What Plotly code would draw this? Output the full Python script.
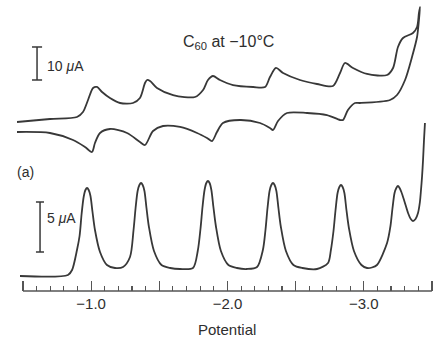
import plotly.graph_objects as go

# ---- Data ----
# Differential pulse voltammogram (bottom trace): potential (V), current (uA)
dpv_potential = [-0.478, -0.830, -0.860, -0.896, -0.915, -0.930, -0.945, -0.958, -0.970, -0.982,
                 -0.995, -1.010, -1.028, -1.065, -1.116, -1.175, -1.234, -1.285, -1.311, -1.326,
                 -1.341, -1.354, -1.366, -1.378, -1.391, -1.406, -1.424, -1.461, -1.516, -1.580,
                 -1.652, -1.747, -1.782, -1.802, -1.817, -1.832, -1.845, -1.857, -1.869, -1.882,
                 -1.897, -1.915, -1.952, -2.007, -2.070, -2.143, -2.217, -2.260, -2.279, -2.294,
                 -2.309, -2.322, -2.334, -2.346, -2.359, -2.374, -2.392, -2.429, -2.484, -2.550,
                 -2.657, -2.738, -2.759, -2.778, -2.793, -2.808, -2.821, -2.833, -2.845, -2.858,
                 -2.873, -2.891, -2.928, -2.983, -3.024, -3.060, -3.097, -3.171, -3.196, -3.211,
                 -3.226, -3.239, -3.251, -3.263, -3.276, -3.300, -3.325, -3.345, -3.361, -3.380,
                 -3.398, -3.412, -3.420, -3.428, -3.435, -3.442, -3.449]
dpv_current = [0.0, 0.1, 0.6, 2.6, 4.0, 6.2, 7.9, 8.6, 8.8, 8.6,
               8.0, 6.4, 4.6, 2.4, 1.1, 0.8, 0.9, 1.9, 4.6, 6.8,
               8.5, 9.1, 9.3, 9.1, 8.5, 6.8, 4.9, 2.5, 1.1, 0.8,
               0.7, 0.8, 2.5, 4.7, 6.9, 8.6, 9.3, 9.5, 9.3, 8.6,
               6.9, 5.0, 2.5, 1.1, 0.8, 0.7, 0.9, 2.6, 4.6, 6.8,
               8.5, 9.1, 9.3, 9.1, 8.5, 6.8, 4.9, 2.5, 1.1, 0.8,
               0.7, 1.3, 2.6, 4.5, 6.6, 8.3, 8.9, 9.1, 8.9, 8.3,
               6.6, 4.8, 2.5, 1.1, 0.8, 0.85, 1.1, 3.3, 5.0, 6.8,
               8.3, 8.8, 9.0, 8.8, 8.4, 7.4, 6.3, 5.7, 5.5, 5.7,
               6.3, 7.4, 8.6, 10.0, 11.6, 13.6, 15.3]

# Cyclic voltammogram (top trace): forward scan then return scan
cv_potential = [-0.456, -0.698, -0.896, -0.940, -0.977, -1.014, -1.043, -1.080, -1.138, -1.212,
                -1.307, -1.358, -1.395, -1.410, -1.432, -1.483, -1.601, -1.762, -1.821, -1.857,
                -1.894, -1.945, -2.041, -2.188, -2.276, -2.312, -2.356, -2.408, -2.532, -2.657,
                -2.774, -2.826, -2.862, -2.921, -3.024, -3.171, -3.215, -3.251, -3.288, -3.361,
                -3.391, -3.405, -3.413,
                -3.405, -3.391, -3.354, -3.303, -3.244, -3.193, -2.972, -2.936, -2.884, -2.848,
                -2.826, -2.730, -2.584, -2.437, -2.371, -2.334, -2.312, -2.239, -2.092, -1.967,
                -1.923, -1.887, -1.850, -1.777, -1.652, -1.527, -1.454, -1.395, -1.358, -1.263,
                -1.138, -1.065, -1.028, -1.006, -0.955, -0.867, -0.698, -0.456]
cv_current = [1.21, 2.12, 2.73, 4.24, 7.88, 11.52, 11.82, 10.30, 8.48, 6.97,
              6.97, 8.48, 13.03, 13.94, 13.64, 11.52, 9.39, 8.79, 10.91, 13.94,
              15.15, 13.94, 12.42, 11.82, 11.82, 14.85, 17.58, 16.06, 13.94, 12.73,
              12.12, 16.06, 19.09, 17.58, 15.76, 15.45, 17.58, 23.94, 26.67, 28.18,
              30.00, 34.24, 36.06,
              32.12, 26.97, 20.91, 13.94, 9.39, 7.88, 6.97, 6.97, 4.85, 1.82,
              1.82, 3.33, 3.94, 3.94, 1.52, -1.21, -0.61, 0.91, 1.82, 0.91,
              -1.82, -4.55, -3.64, -2.12, -0.30, 0.00, -1.52, -5.76, -4.85, -2.12,
              -0.91, -2.12, -5.15, -7.88, -6.36, -4.24, -2.12, -1.82]

major_tick_start = -1.0      # labelled ticks at -1.0, -2.0, -3.0
major_tick_step = 0.5
minor_tick_step = 0.1

cv_scale_uA = 10
dpv_scale_uA = 5

# ---- Styling ----
INK = "#383838"
TXT = "#2e2e2e"
AX = "#555"
FONT = "Liberation Sans, Arial, Helvetica, sans-serif"
X_RANGE = [-0.4046, -3.5374]

fig = go.Figure()
fig.add_trace(go.Scatter(x=dpv_potential, y=dpv_current, mode="lines",
                         line=dict(color=INK, width=1.8, shape="spline", smoothing=0.8),
                         yaxis="y", hoverinfo="skip"))
fig.add_trace(go.Scatter(x=cv_potential, y=cv_current, mode="lines",
                         line=dict(color=INK, width=1.8, shape="spline", smoothing=0.8),
                         yaxis="y2", hoverinfo="skip"))

# axis baseline spanning the tick range
fig.add_shape(type="line", xref="x", yref="paper", x0=-0.5, x1=-3.5, y0=0, y1=0,
              line=dict(color=AX, width=1.3))

# scale bars
cv_bar_x, cv_bar_y0 = -0.603, 13.94
fig.add_shape(type="line", xref="x", yref="y2", x0=cv_bar_x, x1=cv_bar_x,
              y0=cv_bar_y0, y1=cv_bar_y0 + cv_scale_uA, line=dict(color=INK, width=1.5))
for yy in (cv_bar_y0, cv_bar_y0 + cv_scale_uA):
    fig.add_shape(type="line", xref="x", yref="y2", x0=-0.566, x1=-0.640, y0=yy, y1=yy,
                  line=dict(color=INK, width=1.5))
dpv_bar_x, dpv_bar_y0 = -0.625, 2.4
fig.add_shape(type="line", xref="x", yref="y", x0=dpv_bar_x, x1=dpv_bar_x,
              y0=dpv_bar_y0, y1=dpv_bar_y0 + dpv_scale_uA, line=dict(color=INK, width=1.5))
for yy in (dpv_bar_y0, dpv_bar_y0 + dpv_scale_uA):
    fig.add_shape(type="line", xref="x", yref="y", x0=-0.595, x1=-0.654, y0=yy, y1=yy,
                  line=dict(color=INK, width=1.5))

annots = [
    dict(text=f"{cv_scale_uA} <i>\u03bc</i>A", x=-0.661, y=18.18, xref="x", yref="y2",
         xanchor="left", yanchor="middle", font=dict(size=14)),
    dict(text=f"{dpv_scale_uA} <i>\u03bc</i>A", x=-0.661, y=5.8, xref="x", yref="y",
         xanchor="left", yanchor="middle", font=dict(size=14)),
    dict(text="C<sub>60</sub> at \u221210\u00b0C", x=-2.004, y=25.45, xref="x", yref="y2",
         xanchor="center", yanchor="middle", font=dict(size=16)),
    dict(text="(a)", x=-0.515, y=10.4, xref="x", yref="y",
         xanchor="center", yanchor="middle", font=dict(size=14)),
    dict(text="Potential", x=-2.0, y=-0.1306, xref="x", yref="paper",
         xanchor="center", yanchor="middle", font=dict(size=15)),
]
for a in annots:
    a["showarrow"] = False
    a["font"]["color"] = TXT
    a["font"]["family"] = FONT
    fig.add_annotation(**a)

fig.update_layout(
    width=442, height=338,
    margin=dict(l=10, r=5, t=0, b=47, pad=0),
    paper_bgcolor="white", plot_bgcolor="white",
    showlegend=False,
    font=dict(family=FONT, color=TXT),
    xaxis=dict(range=X_RANGE, tickmode="linear", tick0=major_tick_start,
               dtick=major_tick_step, ticklabelstep=2, tickformat=".1f",
               ticks="inside", ticklen=10, tickwidth=1.3,
               tickcolor=AX, showline=False, showgrid=False, zeroline=False,
               ticklabelstandoff=2, fixedrange=True,
               tickfont=dict(size=15, color=TXT, family=FONT),
               minor=dict(tickmode="linear", tick0=-0.5, dtick=minor_tick_step,
                          ticks="inside", ticklen=5, tickwidth=1.1, tickcolor=AX,
                          showgrid=False)),
    yaxis=dict(range=[-1.5, 27.6], visible=False, fixedrange=True),
    yaxis2=dict(range=[-50, 38.18], overlaying="y", visible=False, fixedrange=True),
)

fig.write_html("out.html", config={"displayModeBar": False, "staticPlot": True},
               post_script="document.body.style.margin='0';document.body.style.overflow='hidden';")
